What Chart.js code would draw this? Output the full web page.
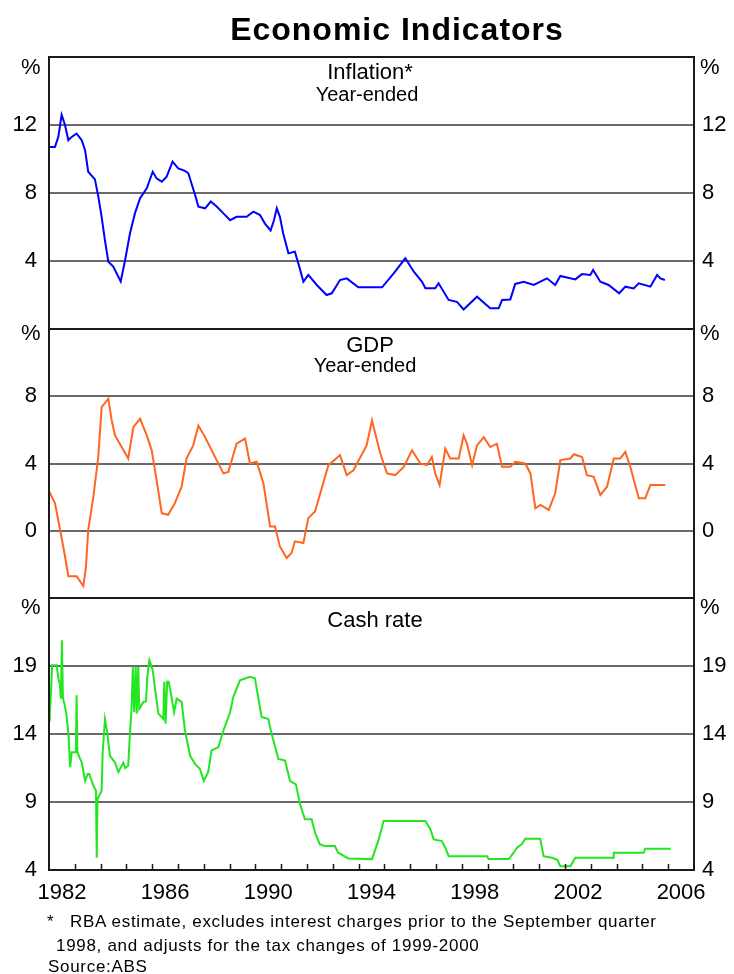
<!DOCTYPE html>
<html><head><meta charset="utf-8">
<script src="https://cdn.jsdelivr.net/npm/chart.js@4.4.1/dist/chart.umd.min.js"></script>
<style>
html,body{margin:0;padding:0;background:#fff;}
#wrap{position:relative;width:734px;height:974px;overflow:hidden;font-family:"Liberation Sans",Arial,sans-serif;color:#000;}
canvas{position:absolute;left:0;top:0;}
.t{position:absolute;white-space:nowrap;line-height:1;}
.c{transform:translateX(-50%);}
</style></head><body>
<div id="wrap">
<canvas id="c1" width="734" height="974"></canvas>
<canvas id="c2" width="734" height="974"></canvas>
<canvas id="c3" width="734" height="974"></canvas>
<div class="t c" style="left:397px;top:13px;font-size:32px;font-weight:bold;letter-spacing:1px;">Economic Indicators</div>
<div class="t c" style="left:370px;top:61px;font-size:22px;">Inflation*</div>
<div class="t c" style="left:367px;top:84px;font-size:20px;">Year-ended</div>
<div class="t c" style="left:370px;top:334px;font-size:22px;">GDP</div>
<div class="t c" style="left:365px;top:355px;font-size:20px;">Year-ended</div>
<div class="t c" style="left:375px;top:609px;font-size:22px;">Cash rate</div>
<div class="t" style="left:21px;top:56px;font-size:22px;">%</div>
<div class="t" style="left:700px;top:56px;font-size:22px;">%</div>
<div class="t" style="left:21px;top:322px;font-size:22px;">%</div>
<div class="t" style="left:700px;top:322px;font-size:22px;">%</div>
<div class="t" style="left:21px;top:596px;font-size:22px;">%</div>
<div class="t" style="left:700px;top:596px;font-size:22px;">%</div>
<div class="t" style="left:47px;top:913px;font-size:17px;letter-spacing:0.7px;">*</div>
<div class="t" style="left:70px;top:913px;font-size:17px;letter-spacing:0.7px;">RBA estimate, excludes interest charges prior to the September quarter</div>
<div class="t" style="left:56px;top:937px;font-size:17px;letter-spacing:0.7px;">1998, and adjusts for the tax changes of 1999-2000</div>
<div class="t" style="left:48px;top:958px;font-size:17px;letter-spacing:0.7px;">Source:ABS</div>
</div>
<script>
const yearLabels = ['1982','1986','1990','1994','1998','2002','2006'];

const inflationX = [1982.00,1982.23,1982.36,1982.49,1982.62,1982.75,1982.88,1983.07,1983.27,1983.40,1983.52,1983.78,1983.91,1984.04,1984.17,1984.30,1984.49,1984.78,1984.95,1985.14,1985.33,1985.53,1985.79,1986.02,1986.17,1986.37,1986.56,1986.79,1987.01,1987.27,1987.40,1987.66,1987.79,1988.05,1988.27,1988.50,1988.76,1989.02,1989.27,1989.66,1989.92,1990.18,1990.37,1990.59,1990.72,1990.83,1990.95,1991.08,1991.28,1991.53,1991.70,1991.86,1992.05,1992.38,1992.76,1992.96,1993.28,1993.54,1993.99,1994.31,1994.91,1995.36,1995.81,1996.14,1996.46,1996.59,1996.97,1997.10,1997.49,1997.81,1998.07,1998.59,1999.10,1999.43,1999.56,1999.88,2000.07,2000.40,2000.79,2001.30,2001.62,2001.82,2002.40,2002.66,2002.98,2003.09,2003.37,2003.69,2004.10,2004.34,2004.66,2004.86,2005.31,2005.57,2005.70,2005.87];
const inflationY = [10.7,10.7,11.3,12.6,12.0,11.1,11.3,11.5,11.1,10.5,9.25,8.8,7.8,6.6,5.2,3.96,3.67,2.8,4.06,5.63,6.8,7.7,8.27,9.25,8.86,8.67,8.96,9.84,9.45,9.3,9.16,7.9,7.2,7.1,7.5,7.2,6.8,6.4,6.6,6.6,6.9,6.7,6.2,5.8,6.4,7.1,6.6,5.6,4.45,4.55,3.67,2.78,3.18,2.59,2.0,2.1,2.88,2.98,2.45,2.45,2.45,3.27,4.16,3.37,2.78,2.39,2.39,2.69,1.71,1.6,1.15,1.9,1.22,1.22,1.71,1.74,2.65,2.78,2.59,2.98,2.59,3.12,2.92,3.23,3.18,3.47,2.78,2.59,2.1,2.49,2.39,2.69,2.49,3.18,2.98,2.88];

const gdpX = [1982.01,1982.23,1982.43,1982.62,1982.75,1983.07,1983.33,1983.43,1983.52,1983.72,1983.91,1984.04,1984.30,1984.43,1984.56,1985.07,1985.27,1985.53,1985.79,1985.98,1986.17,1986.37,1986.62,1986.88,1987.14,1987.33,1987.59,1987.79,1988.05,1988.37,1988.76,1988.95,1989.27,1989.60,1989.79,1990.05,1990.31,1990.57,1990.76,1990.95,1991.21,1991.40,1991.53,1991.86,1992.05,1992.31,1992.83,1993.28,1993.54,1993.80,1994.31,1994.52,1994.84,1995.10,1995.42,1995.75,1996.07,1996.39,1996.65,1996.84,1996.97,1997.14,1997.36,1997.55,1997.88,1998.07,1998.20,1998.40,1998.59,1998.85,1999.10,1999.36,1999.56,1999.88,2000.07,2000.46,2000.66,2000.85,2001.05,2001.37,2001.62,2001.82,2002.21,2002.34,2002.66,2002.85,2003.11,2003.37,2003.63,2003.89,2004.14,2004.34,2004.53,2004.86,2005.11,2005.31,2005.89];
const gdpY = [2.32,1.64,0.06,-1.52,-2.7,-2.7,-3.29,-2.2,0.06,2.03,4.39,7.35,7.84,6.56,5.67,4.3,6.16,6.66,5.67,4.79,3.01,1.05,0.95,1.64,2.62,4.3,5.08,6.26,5.57,4.59,3.41,3.5,5.18,5.48,4.0,4.1,2.82,0.25,0.25,-0.93,-1.62,-1.32,-0.63,-0.73,0.75,1.14,3.9,4.49,3.31,3.6,5.08,6.56,4.59,3.41,3.31,3.8,4.79,4.0,3.9,4.39,3.41,2.72,4.89,4.3,4.3,5.67,5.18,3.9,5.08,5.57,4.98,5.18,3.8,3.8,4.1,4.0,3.41,1.34,1.54,1.24,2.23,4.2,4.3,4.55,4.39,3.31,3.21,2.13,2.62,4.3,4.3,4.69,3.8,1.93,1.93,2.72,2.72];

const cashX = [1982.00,1982.03,1982.06,1982.12,1982.30,1982.36,1982.42,1982.46,1982.50,1982.54,1982.60,1982.67,1982.75,1982.82,1982.88,1983.04,1983.07,1983.10,1983.20,1983.27,1983.40,1983.50,1983.56,1983.72,1983.82,1983.85,1983.88,1983.95,1984.04,1984.08,1984.17,1984.26,1984.36,1984.56,1984.69,1984.80,1984.88,1984.95,1985.07,1985.14,1985.20,1985.25,1985.30,1985.36,1985.40,1985.46,1985.50,1985.66,1985.76,1985.81,1985.89,1986.02,1986.11,1986.24,1986.43,1986.47,1986.52,1986.58,1986.64,1986.75,1986.85,1986.95,1987.14,1987.27,1987.47,1987.66,1987.85,1988.00,1988.17,1988.30,1988.56,1988.76,1989.02,1989.14,1989.40,1989.79,1989.98,1990.11,1990.24,1990.50,1990.63,1990.89,1991.15,1991.34,1991.57,1991.73,1991.92,1992.18,1992.31,1992.50,1992.70,1993.08,1993.21,1993.60,1994.52,1994.78,1994.97,1996.59,1996.78,1996.91,1997.23,1997.36,1997.49,1998.98,1999.04,1999.82,2000.01,2000.14,2000.33,2000.46,2001.04,2001.17,2001.50,2001.70,2001.82,2002.21,2002.40,2003.88,2003.89,2005.05,2005.10,2006.10];
const cashY = [15.0,15.5,16.3,19.06,19.06,18.1,17.7,16.6,20.9,16.6,16.2,15.5,14.1,11.55,12.66,12.66,16.85,12.66,12.2,11.9,10.56,11.06,11.06,10.2,9.82,4.9,9.2,9.5,9.82,12.66,15.1,14.1,12.4,11.9,11.2,11.6,11.9,11.5,11.67,14.1,15.86,18.94,15.6,18.94,15.5,18.94,15.86,16.36,16.4,18.2,19.43,18.7,17.34,15.5,15.1,17.84,14.75,17.84,17.84,16.7,15.6,16.6,16.36,14.26,12.4,11.8,11.43,10.56,11.2,12.8,13.03,14.26,15.6,16.7,17.95,18.2,18.1,16.7,15.25,15.1,14.0,12.17,12.05,10.56,10.3,8.84,7.73,7.73,6.75,5.88,5.76,5.76,5.27,4.85,4.8,6.25,7.6,7.6,7.0,6.25,6.13,5.64,5.02,5.02,4.8,4.8,5.27,5.64,5.9,6.3,6.3,5.02,4.9,4.75,4.28,4.28,4.9,4.9,5.27,5.27,5.57,5.57];

const X_MIN = 1982, X_MAX = 2007;

const framePlugin = {
  id: 'frame',
  afterDatasetsDraw(chart) {
    const {ctx, chartArea: a} = chart;
    ctx.save();
    ctx.strokeStyle = '#1a1a1a';
    ctx.lineWidth = 2;
    ctx.strokeRect(a.left, a.top, a.right - a.left, a.bottom - a.top);
    ctx.restore();
  }
};

const yearTickPlugin = {
  id: 'yearTicks',
  afterDatasetsDraw(chart) {
    const {ctx, chartArea: a} = chart;
    const xs = chart.scales.x;
    ctx.save();
    ctx.strokeStyle = '#1a1a1a';
    ctx.lineWidth = 1.5;
    ctx.beginPath();
    for (let y = X_MIN + 1; y < X_MAX; y++) {
      const px = Math.round(xs.getPixelForValue(y)) + 0.5;
      ctx.moveTo(px, a.bottom);
      ctx.lineTo(px, a.bottom - 6);
    }
    ctx.stroke();
    ctx.restore();
  }
};

function makePanel(id, cfg) {
  const tickFont = {family: '"Liberation Sans", Arial, sans-serif', size: 22};
  const labelCb = (v) => {
    if (v === cfg.max) return '';
    if (cfg.hideMin && v === cfg.min) return '';
    return String(v);
  };
  const gridColor = (c) => (c.tick && (c.tick.value === cfg.min || c.tick.value === cfg.max)) ? 'rgba(0,0,0,0)' : '#6a6a6a';
  const scales = {
    x: {
      type: 'linear', min: X_MIN, max: X_MAX,
      display: !!cfg.showX,
      grid: {display: false, drawTicks: false},
      border: {display: false},
      afterBuildTicks: (s) => { s.ticks = yearLabels.map(l => ({value: Number(l) + 0.5})); },
      afterFit: (s) => { s.height = cfg.showX ? 30 : 0; },
      ticks: {
        autoSkip: false, maxRotation: 0, minRotation: 0, padding: 10,
        color: '#000', font: tickFont,
        callback: (v) => { const i = yearLabels.indexOf(String(Math.floor(v))); return i >= 0 ? yearLabels[i] : ''; }
      }
    },
    y: {
      type: 'linear', position: 'left', min: cfg.min, max: cfg.max,
      afterFit: (s) => { s.width = 49; },
      grid: {drawTicks: false, color: gridColor, lineWidth: 2},
      border: {display: false},
      ticks: {stepSize: cfg.step, padding: 12, color: '#000', font: tickFont, callback: labelCb}
    },
    yR: {
      type: 'linear', position: 'right', min: cfg.min, max: cfg.max,
      afterFit: (s) => { s.width = 40; },
      grid: {drawTicks: false, drawOnChartArea: false},
      border: {display: false},
      ticks: {stepSize: cfg.step, padding: 8, color: '#000', font: tickFont, callback: labelCb}
    }
  };
  return new Chart(document.getElementById(id), {
    type: 'line',
    data: {
      datasets: [{
        data: cfg.xs.map((x, i) => ({x: x, y: cfg.ys[i]})),
        borderColor: cfg.color, borderWidth: 2, pointRadius: 0, tension: 0,
        fill: false, yAxisID: 'y', xAxisID: 'x'
      }]
    },
    options: {
      responsive: false, animation: false, devicePixelRatio: 1, events: [],
      layout: {padding: {left: 0, right: 0, top: cfg.top, bottom: cfg.bottom}},
      plugins: {legend: {display: false}, tooltip: {enabled: false}, title: {display: false}},
      scales: scales
    },
    plugins: cfg.showX ? [framePlugin, yearTickPlugin] : [framePlugin]
  });
}

makePanel('c1', {xs: inflationX, ys: inflationY, color: '#0000ff', min: 0, max: 16, step: 4, hideMin: true, top: 57, bottom: 974 - 329});
makePanel('c2', {xs: gdpX, ys: gdpY, color: '#ff6622', min: -4, max: 12, step: 4, hideMin: true, top: 329, bottom: 974 - 598});
makePanel('c3', {xs: cashX, ys: cashY, color: '#22e622', min: 4, max: 24, step: 5, hideMin: false, top: 598, bottom: 974 - 870 - 30, showX: true});
</script>
</body></html>
